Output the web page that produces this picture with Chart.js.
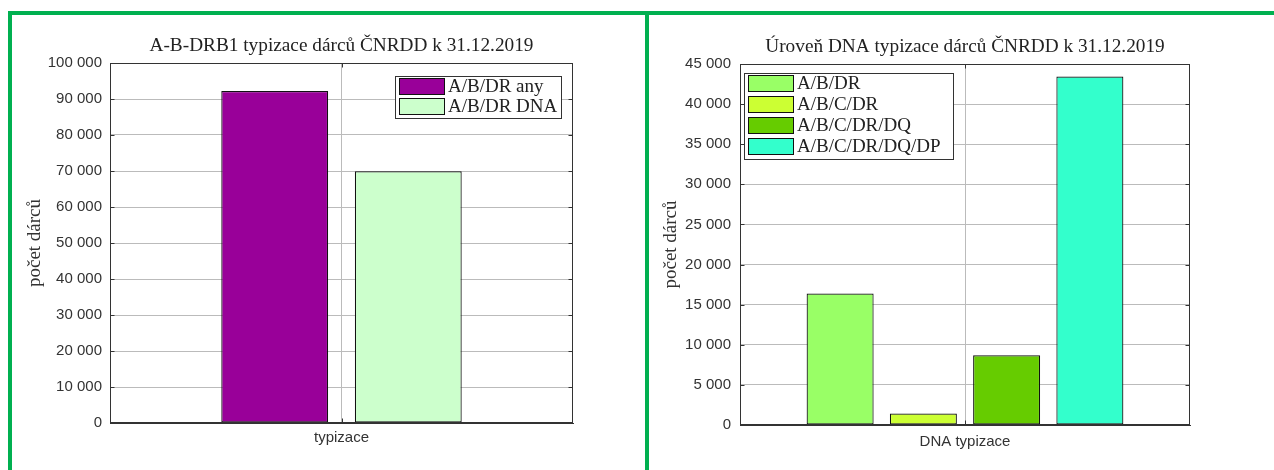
<!DOCTYPE html>
<html>
<head>
<meta charset="utf-8">
<script src="https://cdn.jsdelivr.net/npm/chart.js@4/dist/chart.umd.min.js"></script>
<style>
  html, body { margin: 0; padding: 0; background: #fff; }
  body { width: 1274px; height: 470px; position: relative; overflow: hidden; }
  .line { position: absolute; background: #00b050; }
  .panel { position: absolute; top: 15px; height: 455px; }
</style>
</head>
<body>
<div class="line" style="left:8px; top:11px; width:1266px; height:4px;"></div>
<div class="line" style="left:8px; top:11px; width:4px; height:459px;"></div>
<div class="line" style="left:645px; top:11px; width:4px; height:459px;"></div>

<div class="panel" style="left:12px; width:633px;"><canvas id="leftChart"></canvas></div>
<div class="panel" style="left:649px; width:625px;"><canvas id="rightChart"></canvas></div>

<script>
// left chart: A-B-DRB1 typing
const leftTitle = 'A-B-DRB1 typizace dárců ČNRDD k 31.12.2019';
const leftCategories = ['typizace'];
const leftSeries = ['A/B/DR any', 'A/B/DR DNA'];
const leftValues = [92200, 69900];
const leftColors = ['#990099', '#ccffcc'];
const leftTicks = { min: 0, max: 100000, step: 10000 };

// right chart: DNA typing level
const rightTitle = 'Úroveň DNA typizace dárců ČNRDD k 31.12.2019';
const rightCategories = ['DNA typizace'];
const rightSeries = ['A/B/DR', 'A/B/C/DR', 'A/B/C/DR/DQ', 'A/B/C/DR/DQ/DP'];
const rightValues = [16400, 1420, 8680, 43450];
const rightColors = ['#99ff66', '#ccff33', '#66cc00', '#33ffcc'];
const rightTicks = { min: 0, max: 45000, step: 5000 };

const yLabel = 'počet dárců';

function fmt(v) {
  return String(v).replace(/\B(?=(\d{3})+(?!\d))/g, ' ');
}

// title centred over the plot area (octave style), not over the canvas
const plotTitle = {
  id: 'plotTitle',
  afterDraw(chart, args, opts) {
    const { ctx, chartArea: a } = chart;
    ctx.save();
    ctx.font = opts.font;
    ctx.fillStyle = '#222';
    ctx.textAlign = 'center';
    ctx.textBaseline = 'middle';
    ctx.fillText(opts.text, (a.left + a.right) / 2, a.top - opts.gap);
    ctx.restore();
  }
};

// frame round the plot area, with short inward ticks
const frame = {
  id: 'frame',
  afterDatasetsDraw(chart) {
    const { ctx, chartArea: a, scales } = chart;
    const l = Math.round(a.left) + 0.5, r = Math.round(a.right) - 0.5;
    const t = Math.round(a.top) + 0.5, b = Math.round(a.bottom) - 0.5;
    ctx.save();
    ctx.strokeStyle = '#333';
    ctx.lineWidth = 1;
    ctx.beginPath();
    scales.y.ticks.forEach((tk, i) => {
      const y = Math.round(scales.y.getPixelForTick(i)) + 0.5;
      ctx.moveTo(l, y); ctx.lineTo(l + 4, y);
      ctx.moveTo(r, y); ctx.lineTo(r - 4, y);
    });
    const cx = Math.round(scales.x.getPixelForTick(0)) + 0.5;
    ctx.moveTo(cx, b); ctx.lineTo(cx, b - 4);
    ctx.moveTo(cx, t); ctx.lineTo(cx, t + 4);
    ctx.stroke();
    ctx.strokeRect(l, t, r - l, b - t);
    ctx.restore();
  }
};

// legend drawn inside the plot, like the original
const boxLegend = {
  id: 'boxLegend',
  afterDatasetsDraw(chart, args, opts) {
    const { ctx, chartArea } = chart;
    const ds = chart.data.datasets;
    ctx.save();
    ctx.font = opts.font;
    const textW = Math.max(...ds.map(d => ctx.measureText(d.label).width));
    const w = Math.round(4 + opts.swatchW + 3 + textW + opts.padR);
    const h = Math.round(ds.length * opts.rowH + 2);
    const x = Math.round(opts.anchor === 'right' ? chartArea.right - opts.dx - w : chartArea.left + opts.dx);
    const y = Math.round(chartArea.top + opts.dy);
    ctx.fillStyle = '#fff';
    ctx.fillRect(x, y, w, h);
    ctx.strokeStyle = '#333';
    ctx.lineWidth = 1;
    ctx.strokeRect(x + 0.5, y + 0.5, w, h);
    ds.forEach((d, i) => {
      const ry = Math.round(y + 2 + i * opts.rowH);
      ctx.fillStyle = d.backgroundColor;
      ctx.fillRect(x + 4, ry, opts.swatchW, opts.swatchH);
      ctx.strokeStyle = '#111';
      ctx.strokeRect(x + 4.5, ry + 0.5, opts.swatchW - 1, opts.swatchH - 1);
      ctx.fillStyle = '#222';
      ctx.textBaseline = 'middle';
      ctx.fillText(d.label, x + 4 + opts.swatchW + 3, ry + opts.swatchH / 2 + 1);
    });
    ctx.restore();
  }
};

function makeChart(id, cfg) {
  const datasets = cfg.series.map((name, i) => ({
    label: name,
    data: [cfg.values[i]],
    backgroundColor: cfg.colors[i],
    borderColor: '#111',
    borderWidth: 1.2,
    borderSkipped: false,
    categoryPercentage: cfg.catPct,
    barPercentage: cfg.barPct
  }));

  new Chart(document.getElementById(id).getContext('2d'), {
    type: 'bar',
    data: { labels: cfg.categories, datasets: datasets },
    options: {
      responsive: true,
      maintainAspectRatio: false,
      animation: false,
      layout: { padding: { left: 0, right: cfg.padRight, top: cfg.padTop, bottom: 0 } },
      plugins: {
        legend: { display: false },
        tooltip: { enabled: false },
        title: { display: false },
        plotTitle: { text: cfg.title, gap: 17, font: '19.3px "Liberation Serif"' },
        boxLegend: cfg.legend
      },
      scales: {
        x: {
          grid: { offset: false, color: '#bbb', drawTicks: false },
          border: { color: '#333' },
          ticks: { display: false },
          title: {
            display: true,
            text: cfg.categories[0],
            color: '#333',
            font: { family: 'Liberation Sans', size: 15 },
            padding: { top: 4, bottom: cfg.xTitleBottom }
          },
          afterFit(scale) { scale.height = cfg.xHeight; }
        },
        y: {
          min: cfg.ticks.min,
          max: cfg.ticks.max,
          grid: { color: '#bbb', drawTicks: false },
          border: { color: '#333' },
          ticks: {
            stepSize: cfg.ticks.step,
            padding: cfg.tickPad,
            color: '#333',
            font: { family: 'Liberation Sans', size: 15 },
            callback: v => fmt(v)
          },
          title: {
            display: true,
            text: yLabel,
            color: '#333',
            font: { family: 'Liberation Serif', size: 19 },
            padding: { top: cfg.yTitleTop, bottom: 0 }
          },
          afterFit(scale) { scale.width = cfg.yWidth; }
        }
      }
    },
    plugins: [frame, boxLegend, plotTitle]
  });
}

makeChart('leftChart', {
  title: leftTitle,
  categories: leftCategories,
  series: leftSeries,
  values: leftValues,
  colors: leftColors,
  ticks: leftTicks,
  catPct: 0.577,
  barPct: 0.80,
  padRight: 72,
  padTop: 48,
  xHeight: 47,
  xTitleBottom: 23,
  yWidth: 98,
  yTitleTop: 12,
  tickPad: 8,
  legend: { anchor: 'right', dx: 12, dy: 13, rowH: 20, swatchW: 46, swatchH: 17, padR: 4, font: '19px "Liberation Serif"' }
});

makeChart('rightChart', {
  title: rightTitle,
  categories: rightCategories,
  series: rightSeries,
  values: rightValues,
  colors: rightColors,
  ticks: rightTicks,
  catPct: 0.74,
  barPct: 0.805,
  padRight: 84,
  padTop: 49,
  xHeight: 45,
  xTitleBottom: 19.5,
  yWidth: 91,
  yTitleTop: 10.5,
  tickPad: 9,
  legend: { anchor: 'left', dx: 4, dy: 9, rowH: 21, swatchW: 46, swatchH: 17, padR: 12, font: '19px "Liberation Serif"' }
});
</script>
</body>
</html>
